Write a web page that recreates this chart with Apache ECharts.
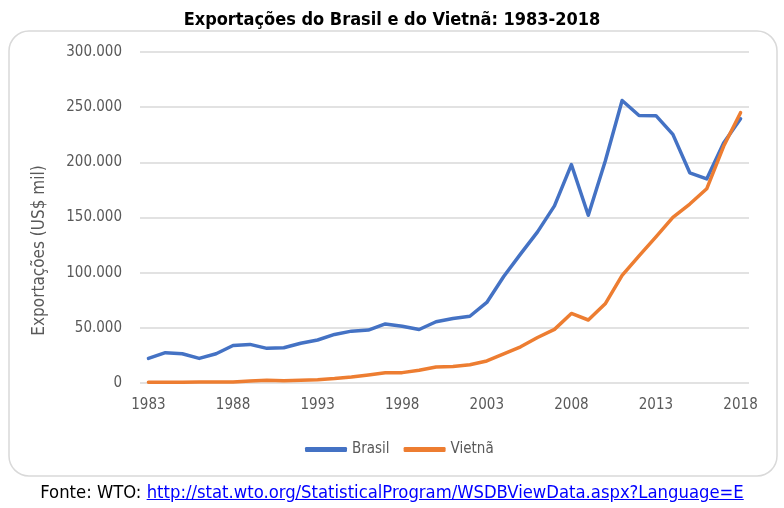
<!DOCTYPE html>
<html><head><meta charset="utf-8">
<script src="https://cdn.jsdelivr.net/npm/echarts@6/dist/echarts.min.js"></script>
<style>
html,body{margin:0;padding:0;background:#fff;}
#c{width:784px;height:508px;position:relative;}
#src{position:absolute;left:0;width:784px;top:481px;text-align:center;font-family:"Liberation Sans Narrow","DejaVu Sans Condensed",sans-serif;font-size:18.3px;color:#000;}
#src a{color:#0000ff;text-decoration:underline;}
</style></head>
<body>
<div id="c"></div>
<div id="src">Fonte: WTO: <a href="#">http://stat.wto.org/StatisticalProgram/WSDBViewData.aspx?Language=E</a></div>
<script>
const years = [];
for (let y = 1983; y <= 2018; y++) years.push(String(y));
const brasil = [22300,27500,26500,22300,26500,34000,35000,31400,32000,36000,39000,44000,47000,48000,53500,51500,48500,55500,58500,60500,73000,96500,117000,137000,160500,198000,152000,201000,256000,242500,242300,225300,190500,185000,217500,239500];
const vietna = [600,700,700,800,900,1000,1900,2400,2100,2600,3000,4000,5400,7300,9200,9400,11500,14500,15000,16500,20000,26300,32800,41200,48600,63000,57100,71800,97500,115200,132400,150200,162200,176000,214500,245000];

const FONT = '"Liberation Sans Narrow","DejaVu Sans Condensed",sans-serif';
const chart = echarts.init(document.getElementById('c'));
chart.setOption({
  animation:false,
  textStyle:{fontFamily:FONT},
  title:{text:'Exportações do Brasil e do Vietnã: 1983-2018',left:'center',top:6,
    textStyle:{fontFamily:FONT,fontSize:18,fontWeight:'bold',color:'#000'}},
  graphic:[{type:'rect',shape:{x:9,y:31,width:768,height:445,r:20},
    style:{fill:'none',stroke:'#d9d9d9',lineWidth:1.5},z:-1}],
  legend:{top:437,left:300,itemWidth:42,itemHeight:5,itemGap:14,icon:'roundRect',
    textStyle:{fontFamily:FONT,fontSize:15,color:'#595959'},
    data:['Brasil','Vietnã']},
  grid:{left:140,right:35,top:52,bottom:125},
  xAxis:{type:'category',data:years,boundaryGap:true,
    axisLine:{show:false},axisTick:{show:false},
    axisLabel:{interval:4,color:'#595959',fontSize:15,margin:15,fontFamily:FONT}},
  yAxis:{type:'value',min:0,max:300000,interval:50000,
    name:'Exportações (US$ mil)',nameLocation:'middle',nameGap:92,
    nameTextStyle:{fontFamily:FONT,fontSize:17,color:'#595959',padding:[0,0,0,-66]},
    axisLine:{show:false},axisTick:{show:false},
    splitLine:{lineStyle:{color:'#d9d9d9',width:1.5}},
    axisLabel:{color:'#595959',fontSize:15,margin:18,fontFamily:FONT,
      formatter:v=>v===0?'0':v.toLocaleString('de-DE')}},
  series:[
    {name:'Brasil',type:'line',data:brasil,showSymbol:false,symbol:'none',
      lineStyle:{color:'#4472C4',width:3.5,cap:'round',join:'round'},itemStyle:{color:'#4472C4'}},
    {name:'Vietnã',type:'line',data:vietna,showSymbol:false,symbol:'none',
      lineStyle:{color:'#ED7D31',width:3.5,cap:'round',join:'round'},itemStyle:{color:'#ED7D31'}}
  ]
});
</script>
</body></html>
